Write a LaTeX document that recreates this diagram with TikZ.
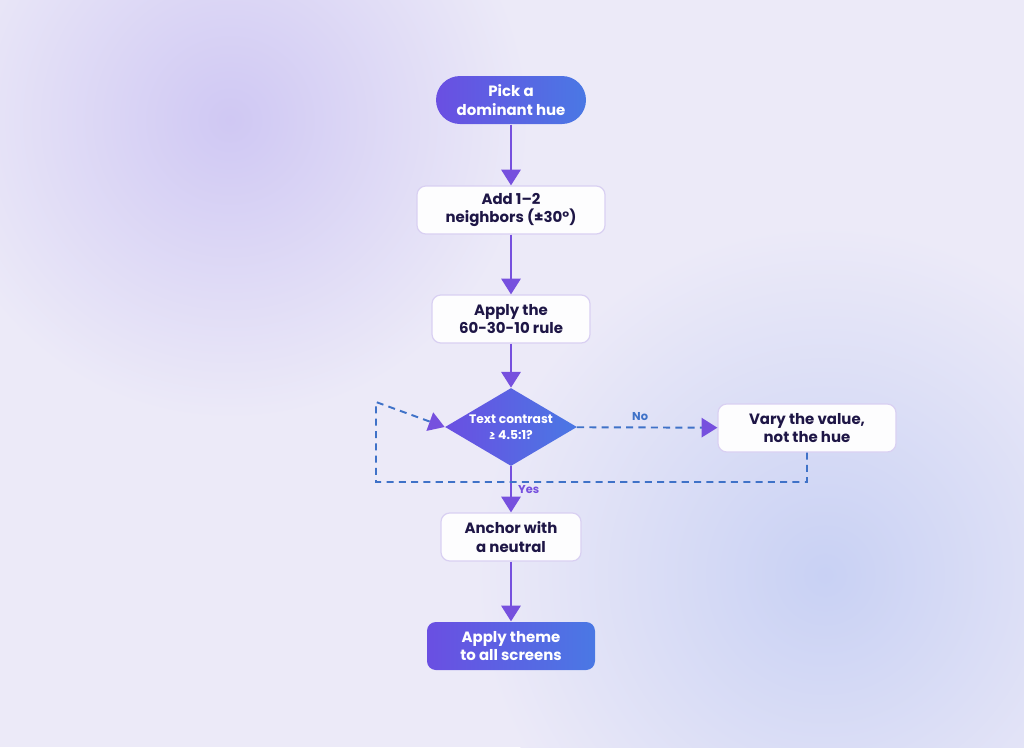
\documentclass[tikz,border=0pt]{standalone}
\usepackage{fontspec}
\setmainfont{Poppins}
\usetikzlibrary{shapes.geometric,arrows.meta}
\definecolor{ink}{HTML}{1E1646}
\definecolor{flow}{HTML}{7650DE}
\definecolor{dashblue}{HTML}{3F72C8}
\definecolor{edge}{HTML}{D9D0F2}
\definecolor{hueA}{HTML}{6A4FE2}
\definecolor{hueB}{HTML}{4A78E4}
\definecolor{paper}{HTML}{ECEAF8}
\tikzset{
  card/.style={draw=edge, line width=0.7pt, fill=white!96!edge, rounded corners=5pt,
    minimum height=0.96cm, align=center, text=ink,
    font=\fontsize{8.5}{10.5}\selectfont\bfseries},
  term/.style={card, draw=none, left color=hueA, right color=hueB, text=white},
  test/.style={diamond, aspect=1.7, inner sep=0pt, minimum width=2.64cm, minimum height=1.56cm,
    left color=hueA, right color=hueB, text=white, align=center,
    font=\fontsize{7}{9}\selectfont\bfseries},
  go/.style={flow, line width=1.4pt, -{Triangle[length=9pt,width=11pt]}},
  back/.style={dashblue, line width=1.1pt, dash pattern=on 4pt off 3pt, -{Triangle[length=9pt,width=11pt,fill=flow,color=flow]}},
}
\begin{document}
\begin{tikzpicture}
    \useasboundingbox (0,0) rectangle (20.48,-14.94);
    \fill[paper] (0,0) rectangle (20.48,-14.94);
    \begin{scope}
    \clip (0,0) rectangle (20.48,-14.94);
    \shade[inner color=hueA!22!paper, outer color=paper] (4.6,-2.4) circle (6cm);
    \shade[inner color=hueB!22!paper, outer color=paper] (16.5,-11.5) circle (7cm);
    \end{scope}
    \node[term, rounded corners=0.48cm, minimum width=3.0cm] (pick) at (10.22,-2.0) {Pick a\\dominant hue};
    \node[card, minimum width=3.76cm] (add) at (10.22,-4.2) {Add 1–2\\neighbors (±30°)};
    \node[card, minimum width=3.16cm] (rule) at (10.22,-6.38) {Apply the\\60-30-10 rule};
    \node[test] (contrast) at (10.22,-8.54) {Text contrast\\≥ 4.5:1?};
    \node[card, minimum width=3.56cm] (vary) at (16.14,-8.56) {Vary the value,\\not the hue};
    \node[card, minimum width=2.8cm] (anchor) at (10.22,-10.74) {Anchor with\\a neutral};
    \node[term, minimum width=3.36cm] (theme) at (10.22,-12.92) {Apply theme\\to all screens};
    \coordinate (dropR) at (16.14,-9.64);
    \coordinate (dropL) at (7.52,-9.64);
    \coordinate (turn) at (7.52,-8.04);
    \draw [go] (pick) -- (add);
    \draw [go] (add) -- (rule);
    \draw [go] (rule) -- (contrast);
    \draw [go] (contrast) -- node[right, pos=0.5, text=flow, font=\fontsize{6.5}{8}\selectfont\bfseries] {Yes} (anchor);
    \draw [go] (anchor) -- (theme);
    \draw [back] (contrast) -- node[above, pos=0.45, text=dashblue, font=\fontsize{6.5}{8}\selectfont\bfseries] {No} (vary);
    \draw [back] (vary) -- (dropR) -- (dropL) -- (turn) -- (contrast.west);
\end{tikzpicture}
\end{document}
